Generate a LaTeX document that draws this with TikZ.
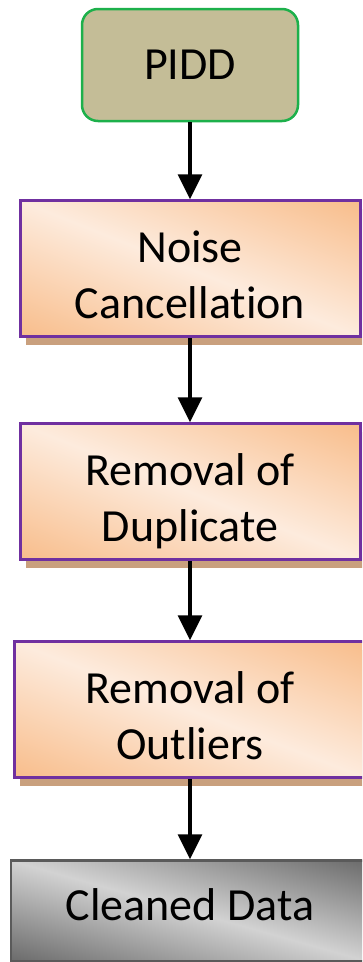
\documentclass[tikz,border=0pt]{standalone}
\usepackage{fontspec}
\setmainfont{Carlito}[Ligatures=NoCommon]
\usetikzlibrary{arrows.meta,positioning,shadows}

\definecolor{piddtan}{HTML}{C4BD97}
\definecolor{piddgreen}{HTML}{1DB04B}
\definecolor{stagepurple}{HTML}{7030A0}
\definecolor{stageshadow}{HTML}{C9A07E}
\definecolor{resultedge}{HTML}{5A5A5A}

% light along the top-left/bottom-right diagonal, darker towards the other two corners
\pgfdeclarefunctionalshading{stagewash}{\pgfpoint{-50bp}{-50bp}}{\pgfpoint{50bp}{50bp}}{}{
  add abs 50 div
  dup -0.019 mul 0.992 add exch
  dup -0.181 mul 0.922 add exch
  -0.322 mul 0.867 add
}
\pgfdeclarefunctionalshading{resultwash}{\pgfpoint{-50bp}{-50bp}}{\pgfpoint{50bp}{50bp}}{}{
  add abs 50 div -0.408 mul 0.824 add dup dup
}

\begin{document}
\begin{tikzpicture}[
    x=1pt, y=1pt,
    node distance=80pt and 0pt,
    font=\fontsize{46}{56}\selectfont,
    source/.style={draw=piddgreen, line width=2.5pt, rounded corners=16pt, fill=piddtan,
        minimum width=216pt, minimum height=112pt, inner sep=0pt},
    stage/.style={draw=stagepurple, line width=3pt, shade, shading=stagewash,
        minimum width=340pt, minimum height=136pt,
        align=center, inner sep=0pt, text height=101pt, text depth=1pt,
        drop shadow={shadow xshift=6pt, shadow yshift=-8pt, fill=stageshadow, opacity=1}},
    result/.style={draw=resultedge, line width=2.5pt, shade, shading=resultwash,
        minimum width=358pt, minimum height=101pt,
        inner sep=0pt, text height=31pt, text depth=12pt},
    arr/.style={-{Triangle[length=25pt, width=24pt]}, line width=3.5pt},
  ]
  \clip (0,0) rectangle (362,-962);

  \node[source] (pidd) at (190,-65) {PIDD};

  \node[stage, below=77pt of pidd] (noise) {Noise\\Cancellation};
  \draw[arr] (pidd) -- (noise);

  \node[stage, below=84pt of noise] (dupes) {Removal of\\Duplicate};
  \draw[arr] (noise) -- (dupes);

  \node[stage, below=79pt of dupes, minimum width=352pt] (outliers) {Removal of\\Outliers};
  \draw[arr] (dupes) -- (outliers);

  \node[result, below=80pt of outliers] (cleaned) {Cleaned Data};
  \draw[arr] (outliers) -- (cleaned);
\end{tikzpicture}
\end{document}
